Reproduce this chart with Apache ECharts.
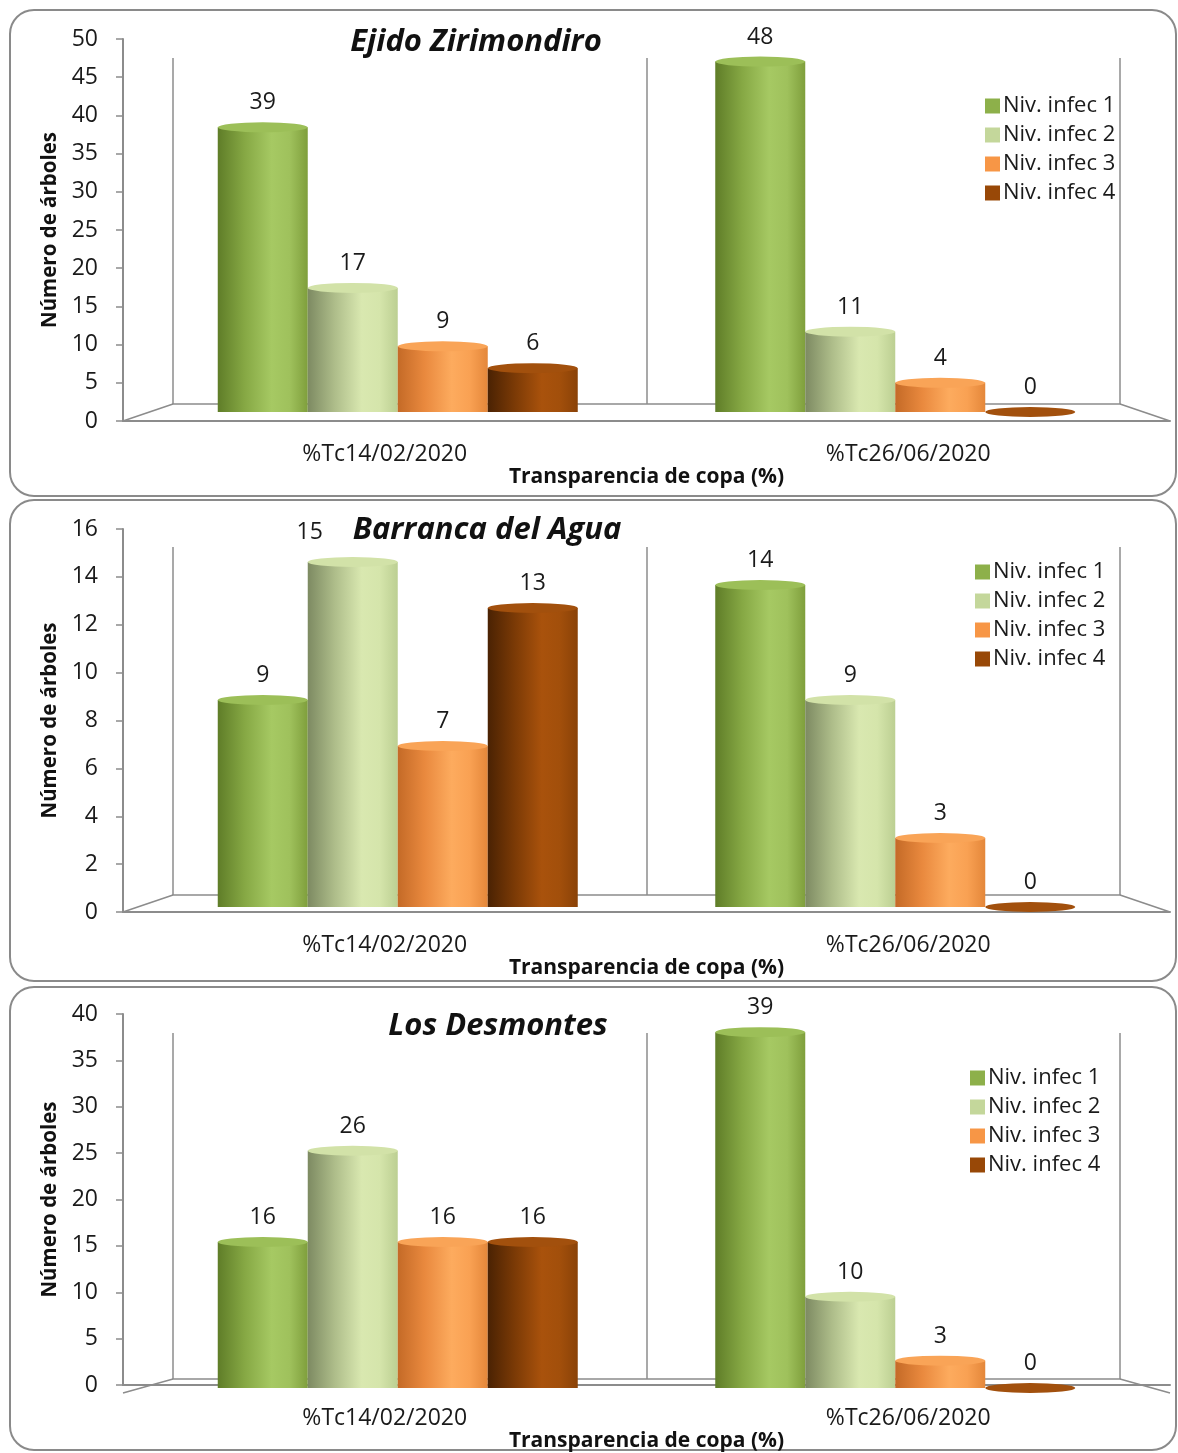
<!DOCTYPE html>
<html>
<head>
<meta charset="utf-8">
<script src="https://cdn.jsdelivr.net/npm/echarts@6/dist/echarts.min.js"></script>
<style>
  html, body { margin: 0; padding: 0; background: #fff; }
  #chart { width: 1178px; height: 1453px; }
</style>
</head>
<body>
<div id="chart"></div>
<script>
const categories = ['%Tc14/02/2020', '%Tc26/06/2020'];
const levels = ['Niv. infec 1', 'Niv. infec 2', 'Niv. infec 3', 'Niv. infec 4'];
const sites = ['Ejido Zirimondiro', 'Barranca del Agua', 'Los Desmontes'];

// rows = infection level, columns = date
const ejidoValues = [[39, 48], [17, 11], [9, 4], [6, 0]];
const barrancaValues = [[9, 14], [15, 9], [7, 3], [13, 0]];
const desmontesValues = [[16, 39], [26, 10], [16, 3], [16, 0]];
const yMax = [50, 16, 40];
const yStep = [5, 2, 5];

const siteValues = [ejidoValues, barrancaValues, desmontesValues];

const FONT = '"Open Sans"';
const legendColors = ['#8db04a', '#c4d79b', '#f79646', '#984807'];
const capColors = ['#9cbf58', '#d2e2a8', '#f9a457', '#a2500d'];
const cylinderStops = [
  ['#5f7d28', '#86a844', '#a6c963', '#9fc15c', '#7f9f3c'],
  ['#7d8a62', '#aebd8a', '#d9e8b0', '#d5e5ab', '#bccf92'],
  ['#c46a27', '#e9893e', '#fdab5e', '#f9a153', '#e4873a'],
  ['#4a2203', '#7b3a06', '#a9520c', '#a24f0b', '#8a4207']
];

// label nudged aside so it does not sit under the panel title (panel, level, category)
const nudgedLabel = { panel: 1, level: 1, cat: 0, offset: [-43, -5] };

function cylinder(i) {
  const c = cylinderStops[i];
  return new echarts.graphic.LinearGradient(0, 0, 1, 0, [
    { offset: 0, color: c[0] },
    { offset: 0.3, color: c[1] },
    { offset: 0.6, color: c[2] },
    { offset: 0.8, color: c[3] },
    { offset: 1, color: c[4] }
  ]);
}

// pixel layout of each panel
const panels = [
  { box: [10, 10, 1166, 486], front: [39, 421], back: [58, 404], bars: [47, 412], title: [476, 42], legend: [985, 95], nameGap: 42 },
  { box: [10, 500, 1166, 481], front: [529, 912], back: [547, 895], bars: [539, 907], title: [487, 530], legend: [975, 561], nameGap: 35 },
  { box: [10, 987, 1166, 463], front: [1014, 1393], back: [1033, 1379], bars: [1023, 1388], title: [498, 1026], legend: [970, 1067], nameGap: 35 }
];

const grid = [], xAxis = [], yAxis = [], series = [], legend = [], graphic = [];

panels.forEach((p, k) => {
  const gBack = grid.length, gFront = gBack + 1, gBars = gBack + 2;

  grid.push({ left: 173, width: 947, top: p.back[0], height: p.back[1] - p.back[0] });
  grid.push({ left: 123, width: 1047, top: p.front[0], height: p.front[1] - p.front[0] });
  grid.push({ left: 149, width: 995, top: p.bars[0], height: p.bars[1] - p.bars[0] });

  // back wall
  xAxis.push({
    type: 'category', gridIndex: gBack, data: categories,
    axisLine: { lineStyle: { color: '#8c8c8c', width: 1.5 } },
    axisTick: { show: false }, axisLabel: { show: false },
    splitLine: { show: true, lineStyle: { color: '#8c8c8c', width: 1.5 } }
  });
  yAxis.push({ type: 'value', gridIndex: gBack, min: 0, max: yMax[k], show: false });

  // front axes
  xAxis.push({
    type: 'category', gridIndex: gFront, data: categories,
    name: 'Transparencia de copa (%)', nameLocation: 'middle', nameGap: p.nameGap,
    nameTextStyle: { fontFamily: FONT, fontWeight: 'bold', fontSize: 21, color: '#111' },
    axisLine: { lineStyle: { color: '#8c8c8c', width: 2 } },
    axisTick: { show: false },
    axisLabel: { fontFamily: FONT, fontSize: 23, color: '#1a1a1a', margin: 22 }
  });
  yAxis.push({
    type: 'value', gridIndex: gFront, min: 0, max: yMax[k], interval: yStep[k],
    name: 'Número de árboles', nameLocation: 'middle', nameGap: 61,
    nameTextStyle: { fontFamily: FONT, fontWeight: 'bold', fontSize: 20.5, color: '#111' },
    axisLine: { show: true, lineStyle: { color: '#8c8c8c', width: 2 } },
    axisTick: { show: true, length: 7, lineStyle: { color: '#8c8c8c', width: 1.5 } },
    axisLabel: { fontFamily: FONT, fontSize: 23, color: '#1a1a1a', margin: 25 },
    splitLine: { show: false }
  });

  // bar axes
  xAxis.push({ type: 'category', gridIndex: gBars, data: categories, show: false });
  yAxis.push({ type: 'value', gridIndex: gBars, min: 0, max: yMax[k], show: false });

  siteValues[k].forEach((vals, i) => {
    const data = vals.map((v, c) => {
      if (nudgedLabel.panel === k && nudgedLabel.level === i && nudgedLabel.cat === c) {
        return { value: v, label: { offset: nudgedLabel.offset } };
      }
      return v;
    });
    series.push({
      type: 'bar', name: levels[i], xAxisIndex: gBars, yAxisIndex: gBars,
      data: data, barWidth: 90, barGap: '0%',
      itemStyle: { color: cylinder(i) },
      label: { show: true, position: 'top', distance: 13, fontFamily: FONT, fontSize: 23, color: '#1a1a1a' },
      z: 2
    });
    series.push({
      type: 'pictorialBar', name: levels[i], xAxisIndex: gBars, yAxisIndex: gBars,
      data: vals, barWidth: 90, barGap: '0%',
      symbol: 'circle', symbolSize: [90, 10], symbolPosition: 'end', symbolOffset: [0, '-50%'],
      itemStyle: { color: capColors[i] }, silent: true, z: 3
    });
  });

  legend.push({
    orient: 'vertical', left: p.legend[0], top: p.legend[1], padding: 0,
    icon: 'rect', itemWidth: 15, itemHeight: 15, itemGap: 7,
    textStyle: { fontFamily: FONT, fontSize: 22, color: '#1a1a1a', padding: [0, 0, 0, -2] },
    data: levels.map((n, i) => ({ name: n, itemStyle: { color: legendColors[i] } }))
  });

  graphic.push({
    type: 'rect', z: -1,
    shape: { x: p.box[0], y: p.box[1], width: p.box[2], height: p.box[3], r: 24 },
    style: { fill: 'none', stroke: '#8a8a8a', lineWidth: 2 }
  });
  graphic.push({
    type: 'line', shape: { x1: 123, y1: p.front[1], x2: 173, y2: p.back[1] },
    style: { stroke: '#8c8c8c', lineWidth: 1.5 }
  });
  graphic.push({
    type: 'line', shape: { x1: 1170, y1: p.front[1], x2: 1120, y2: p.back[1] },
    style: { stroke: '#8c8c8c', lineWidth: 1.5 }
  });
  graphic.push({
    type: 'text', x: p.title[0], y: p.title[1],
    style: {
      text: sites[k], fontFamily: FONT, fontSize: 31, fontWeight: 'bold', fontStyle: 'italic',
      fill: '#111', align: 'center', verticalAlign: 'middle'
    }
  });
});

const chart = echarts.init(document.getElementById('chart'));
chart.setOption({
  animation: false,
  backgroundColor: '#fff',
  grid: grid,
  xAxis: xAxis,
  yAxis: yAxis,
  legend: legend,
  graphic: graphic,
  series: series
});

window.addEventListener('resize', function () {
  chart.resize();
});
</script>
</body>
</html>
